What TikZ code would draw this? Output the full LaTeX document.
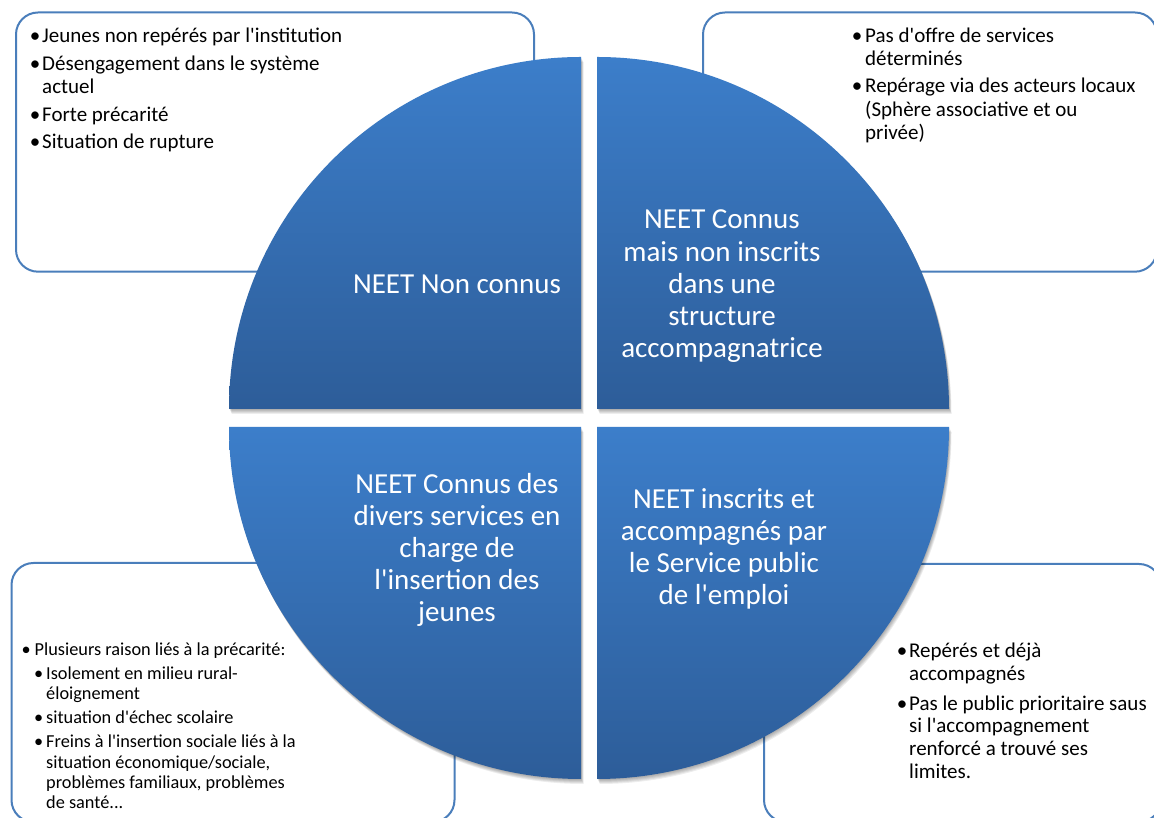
\documentclass[tikz,border=0pt]{standalone}
\usepackage{fontspec}
\setmainfont{Carlito}[Ligatures=TeXOff]
\definecolor{boxblue}{RGB}{74,126,187}
\definecolor{qtop}{RGB}{60,126,202}
\definecolor{qbot}{RGB}{45,93,153}
\newcommand\mybul[1]{\llap{\makebox[#1][c]{•}}}
\newcommand\quadTL{(581,409) -- (229,409) arc[start angle=180,end angle=90,radius=352] -- cycle}
\newcommand\quadTR{(597,409) -- (597,761) arc[start angle=90,end angle=0,radius=352] -- cycle}
\newcommand\quadBL{(581,391) -- (229,391) arc[start angle=180,end angle=270,radius=352] -- cycle}
\newcommand\quadBR{(597,391) -- (949,391) arc[start angle=0,end angle=-90,radius=352] -- cycle}
\begin{document}
\begin{tikzpicture}[x=1pt,y=1pt,
  box/.style={draw=boxblue, line width=2pt, fill=white, rounded corners=22pt},
  quad/.style={top color=qtop, bottom color=qbot, draw=none},
  qshadow/.style={fill=black, fill opacity=0.07, draw=none},
  qtext/.style={anchor=base, text=white, inner sep=0pt, font=\fontsize{29}{32}\selectfont},
  btext/.style={anchor=base west, inner sep=0pt, font=\fontsize{21}{23}\selectfont},
  stext/.style={anchor=base west, inner sep=0pt, font=\fontsize{18.3}{20}\selectfont}]
\useasboundingbox (0,0) rectangle (1154,818);
\clip (0,0) rectangle (1154,818);
\fill[white] (0,0) rectangle (1154,818);
% side boxes
\draw[box] (16,805.5) rectangle (534,546.3);
\draw[box] (703,805.5) rectangle (1157,546.3);
\draw[box] (11.5,255) rectangle (454.5,-4);
\draw[box] (764,254) rectangle (1161,-4);
% shadows of the quadrants
\foreach \d in {1,...,5}{
  \fill[qshadow, xshift=0.5*\d pt, yshift=-\d pt] \quadTL;
  \fill[qshadow, xshift=0.5*\d pt, yshift=-\d pt] \quadTR;
  \fill[qshadow, xshift=0.5*\d pt, yshift=-\d pt] \quadBL;
  \fill[qshadow, xshift=0.5*\d pt, yshift=-\d pt] \quadBR;
}
% quadrants
\shade[quad] \quadTL;
\shade[quad] \quadTR;
\shade[quad] \quadBL;
\shade[quad] \quadBR;
% quadrant texts
\node[qtext] (q1a) at (457,524) {NEET Non connus};
\node[qtext] (q2a) at (722,589) {NEET Connus};
\node[qtext] (q2b) at (722,556) {mais non inscrits};
\node[qtext] (q2c) at (722,524) {dans une};
\node[qtext] (q2d) at (722,492) {structure};
\node[qtext] (q2e) at (722,460) {accompagnatrice};
\node[qtext] (q3a) at (457,324) {NEET Connus des};
\node[qtext] (q3b) at (457,292) {divers services en};
\node[qtext] (q3c) at (457,260) {charge de};
\node[qtext] (q3d) at (457,228) {l'insertion des};
\node[qtext] (q3e) at (457,196) {jeunes};
\node[qtext] (q4a) at (724,309) {NEET inscrits et};
\node[qtext] (q4b) at (724,277) {accompagnés par};
\node[qtext] (q4c) at (724,245) {le Service public};
\node[qtext] (q4d) at (724,213) {de l'emploi};
% top-left box text
\node[btext] (tl1) at (42,775) {\mybul{14pt}Jeunes non repérés par l'institution};
\node[btext] (tl2) at (42,747) {\mybul{14pt}Désengagement dans le système};
\node[btext] (tl3) at (42,724) {actuel};
\node[btext] (tl4) at (42,696) {\mybul{14pt}Forte précarité};
\node[btext] (tl5) at (42,669) {\mybul{14pt}Situation de rupture};
% top-right box text
\node[btext] (tr1) at (865,775) {\mybul{16pt}Pas d'offre de services};
\node[btext] (tr2) at (865,752) {déterminés};
\node[btext] (tr3) at (865,725) {\mybul{16pt}Repérage via des acteurs locaux};
\node[btext] (tr4) at (865,701) {(Sphère associative et ou};
\node[btext] (tr5) at (865,678) {privée)};
% bottom-left box text
\node[stext] (bl1) at (34.5,162) {\mybul{17pt}Plusieurs raison liés à la précarité:};
\node[stext] (bl2) at (46,138) {\mybul{15pt}Isolement en milieu rural-};
\node[stext] (bl3) at (46,118) {éloignement};
\node[stext] (bl4) at (46,94) {\mybul{15pt}situation d'échec scolaire};
\node[stext] (bl5) at (46,70) {\mybul{15pt}Freins à l'insertion sociale liés à la};
\node[stext] (bl6) at (46,49) {situation économique/sociale,};
\node[stext] (bl7) at (46,29) {problèmes familiaux, problèmes};
\node[stext] (bl8) at (46,9) {de santé...};
% bottom-right box text
\node[btext] (br1) at (909,160) {\mybul{14pt}Repérés et déjà};
\node[btext] (br2) at (909,137) {accompagnés};
\node[btext] (br3) at (909,107) {\mybul{14pt}Pas le public prioritaire saus};
\node[btext] (br4) at (909,85) {si l'accompagnement};
\node[btext] (br5) at (909,62) {renforcé a trouvé ses};
\node[btext] (br6) at (909,39) {limites.};
\end{tikzpicture}
\end{document}
